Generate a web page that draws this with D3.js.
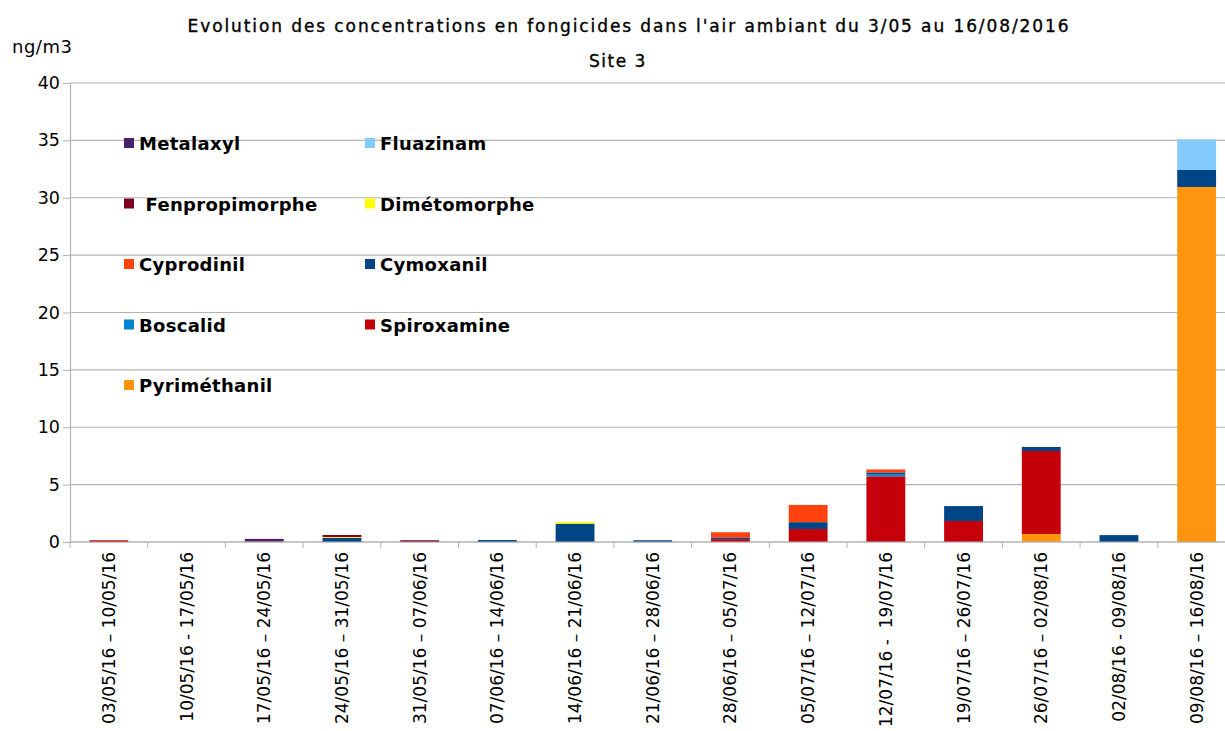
<!DOCTYPE html>
<html lang="fr">
<head>
    <meta charset="UTF-8">
    <title>Fongicides - Site 3</title>
    <style>
        html, body { margin: 0; padding: 0; background: #fff; }
        svg text { font-family: "DejaVu Sans", sans-serif; fill: #000; }
    </style>
</head>
<body>
    <div id="chart"></div>

    <script src="https://d3js.org/d3.v7.min.js"></script>
    <script>
    // periods (x categories)
    const periods = [
        "03/05/16 – 10/05/16", "10/05/16 - 17/05/16", "17/05/16 – 24/05/16",
        "24/05/16 – 31/05/16", "31/05/16 – 07/06/16", "07/06/16 – 14/06/16",
        "14/06/16 – 21/06/16", "21/06/16 – 28/06/16", "28/06/16 – 05/07/16",
        "05/07/16 – 12/07/16", "12/07/16 -  19/07/16", "19/07/16 – 26/07/16",
        "26/07/16 – 02/08/16", "02/08/16 - 09/08/16", "09/08/16 – 16/08/16"
    ];

    // concentrations in ng/m3, one array per substance
    const pyrimethanil   = [0, 0, 0, 0, 0, 0, 0, 0, 0, 0, 0, 0, 0.7, 0, 30.94];
    const spiroxamine    = [0.15, 0, 0.05, 0, 0, 0, 0, 0, 0.25, 1.13, 5.72, 1.83, 7.23, 0, 0];
    const boscalid       = [0, 0, 0, 0, 0, 0, 0, 0, 0, 0, 0.17, 0, 0, 0, 0];
    const cymoxanil      = [0, 0, 0, 0.35, 0, 0.17, 1.6, 0.15, 0.15, 0.6, 0.17, 1.3, 0.35, 0.6, 1.48];
    const cyprodinil     = [0, 0, 0, 0, 0, 0, 0, 0, 0.45, 1.5, 0.26, 0, 0, 0, 0];
    const dimetomorphe   = [0, 0, 0, 0.08, 0, 0, 0.15, 0, 0, 0, 0, 0, 0, 0, 0];
    const fenpropimorphe = [0, 0, 0, 0.18, 0.15, 0, 0, 0, 0, 0, 0, 0, 0, 0, 0];
    const fluazinam      = [0, 0, 0, 0, 0, 0, 0, 0, 0, 0, 0, 0, 0, 0, 2.67];
    const metalaxyl      = [0, 0, 0.22, 0, 0, 0, 0, 0, 0, 0, 0, 0, 0, 0, 0];

    // stacking order, bottom to top
    const series = [
        { key: "pyr", name: "Pyriméthanil", values: pyrimethanil, color: "#ff950e" },
        { key: "spi", name: "Spiroxamine", values: spiroxamine, color: "#c5000b" },
        { key: "bos", name: "Boscalid", values: boscalid, color: "#0084d1" },
        { key: "cym", name: "Cymoxanil", values: cymoxanil, color: "#004586" },
        { key: "cyp", name: "Cyprodinil", values: cyprodinil, color: "#ff420e" },
        { key: "dim", name: "Dimétomorphe", values: dimetomorphe, color: "#ffff00" },
        { key: "fen", name: " Fenpropimorphe", values: fenpropimorphe, color: "#7e0021" },
        { key: "flu", name: "Fluazinam", values: fluazinam, color: "#83caff" },
        { key: "met", name: "Metalaxyl", values: metalaxyl, color: "#4b1f6f" }
    ];

    const yTicks = [0, 5, 10, 15, 20, 25, 30, 35, 40];

    const W = 1225, H = 731;
    const plotLeft = 70, plotTop = 83, plotBottom = 542;
    const step = 77.7;

    const svg = d3.select("#chart").append("svg")
        .attr("width", W).attr("height", H);

    const x = d3.scaleBand()
        .domain(periods)
        .range([plotLeft, plotLeft + step * periods.length])
        .paddingInner(0.5)
        .paddingOuter(0.25);

    const y = d3.scaleLinear().domain([0, 40]).range([plotBottom, plotTop]);

    // grid
    svg.append("g")
        .selectAll("line")
        .data(yTicks)
        .join("line")
            .attr("x1", plotLeft).attr("x2", W)
            .attr("y1", d => y(d)).attr("y2", d => y(d))
            .attr("stroke", "#b3b3b3").attr("stroke-width", 1.2);

    // y axis
    const yAxis = svg.append("g")
        .attr("transform", `translate(${plotLeft},0)`)
        .call(d3.axisLeft(y).tickValues(yTicks).tickSize(7).tickPadding(3));
    yAxis.select(".domain").attr("stroke", "#b3b3b3").attr("stroke-width", 1.2);
    yAxis.selectAll(".tick line").attr("stroke", "#b3b3b3");
    yAxis.selectAll(".tick text")
        .style("font-size", "17.5px")
        .style("font-family", "'DejaVu Sans', sans-serif");

    // stacked bars
    const table = periods.map((p, i) => {
        const row = { period: p };
        series.forEach(s => row[s.key] = s.values[i]);
        return row;
    });
    const stacked = d3.stack().keys(series.map(s => s.key))(table);

    svg.append("g")
        .selectAll("g")
        .data(stacked)
        .join("g")
            .attr("fill", (d, i) => series[i].color)
        .selectAll("rect")
        .data(d => d)
        .join("rect")
            .attr("x", d => x(d.data.period))
            .attr("width", x.bandwidth())
            .attr("y", d => y(d[1]))
            .attr("height", d => y(d[0]) - y(d[1]));

    // x axis
    svg.append("line")
        .attr("x1", plotLeft).attr("x2", W)
        .attr("y1", plotBottom).attr("y2", plotBottom)
        .attr("stroke", "#b3b3b3").attr("stroke-width", 1.2);

    svg.append("g")
        .selectAll("line")
        .data(d3.range(periods.length + 1))
        .join("line")
            .attr("x1", i => plotLeft + i * x.step())
            .attr("x2", i => plotLeft + i * x.step())
            .attr("y1", plotBottom).attr("y2", plotBottom + 6)
            .attr("stroke", "#b3b3b3");

    svg.append("g")
        .selectAll("text")
        .data(periods)
        .join("text")
            .attr("transform", d => `translate(${x(d) + x.bandwidth() / 2 + 6},552) rotate(-90)`)
            .attr("text-anchor", "end")
            .style("font-size", "17px")
            .style("white-space", "pre")
            .text(d => d);

    // legend
    const legendOrder = ["met", "flu", "fen", "dim", "cyp", "cym", "bos", "spi", "pyr"];
    const legend = svg.append("g");
    legendOrder.forEach((k, i) => {
        const s = series.find(d => d.key === k);
        const col = i % 2, row = Math.floor(i / 2);
        const lx = 124 + col * 241, ly = 143 + row * 60.5;
        legend.append("rect")
            .attr("x", lx).attr("y", ly - 5)
            .attr("width", 10).attr("height", 10)
            .attr("fill", s.color);
        legend.append("text")
            .attr("x", lx + 15).attr("y", ly + 7)
            .style("font-size", "18px")
            .style("font-weight", "bold")
            .style("letter-spacing", "0.3px")
            .style("white-space", "pre")
            .text(s.name);
    });

    // titles
    svg.append("text")
        .attr("x", 629).attr("y", 32)
        .attr("text-anchor", "middle")
        .style("font-size", "17px")
        .style("letter-spacing", "1.9px")
        .attr("stroke", "#000").attr("stroke-width", 0.35)
        .text("Evolution des concentrations en fongicides dans l'air ambiant du 3/05 au 16/08/2016");

    svg.append("text")
        .attr("x", 618).attr("y", 67)
        .attr("text-anchor", "middle")
        .style("font-size", "17px")
        .style("letter-spacing", "1.5px")
        .attr("stroke", "#000").attr("stroke-width", 0.35)
        .text("Site 3");

    svg.append("text")
        .attr("x", 12).attr("y", 53)
        .style("font-size", "18px")
        .style("letter-spacing", "0.5px")
        .text("ng/m3");
    </script>
</body>
</html>
